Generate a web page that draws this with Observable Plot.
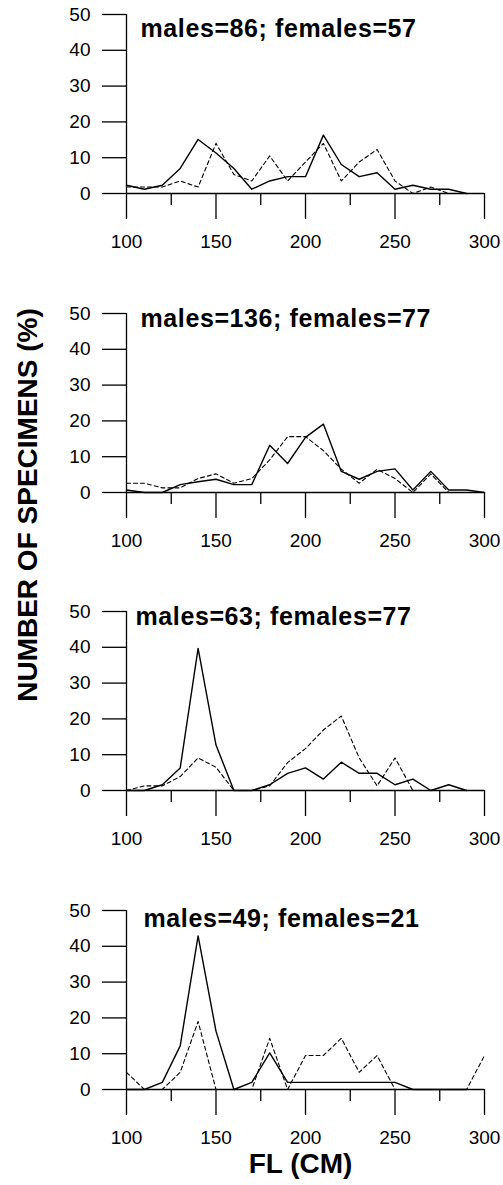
<!DOCTYPE html>
<html>
<head>
<meta charset="utf-8">
<script src="https://cdn.jsdelivr.net/npm/d3@7"></script>
<script src="https://cdn.jsdelivr.net/npm/@observablehq/plot@0.6"></script>
<style>
  html, body { margin: 0; padding: 0; background: #fff; }
  #wrap { position: relative; width: 503px; height: 1185px; overflow: hidden; font-family: "Liberation Sans", Arial, sans-serif; }
  .panel { position: absolute; left: 0; }
  .panel svg g[aria-label="text"] text { letter-spacing: 0.6px; }
  #ylab { position: absolute; left: 28px; top: 505px; transform: translate(-50%, -50%) rotate(-90deg); white-space: nowrap; font-size: 28px; font-weight: bold; line-height: 1; color: #000; }
  #xlab { position: absolute; left: 300.5px; top: 1150px; transform: translateX(-50%); white-space: nowrap; font-size: 28px; font-weight: bold; line-height: 1; color: #000; }
</style>
</head>
<body>
<div id="wrap">
  <div id="ylab">NUMBER OF SPECIMENS (%)</div>
  <div id="xlab">FL (CM)</div>
</div>
<script>
// Fork length classes (cm)
const fl = [100, 110, 120, 130, 140, 150, 160, 170, 180, 190, 200, 210, 220, 230, 240, 250, 260, 270, 280, 290, 300];
const xTicks = [100, 150, 200, 250, 300];
const xMinorTicks = [125, 175, 225, 275];
const yTicks = [0, 10, 20, 30, 40, 50];

const titles = [
  "males=86; females=57",
  "males=136; females=77",
  "males=63; females=77",
  "males=49; females=21"
];

// Percent of specimens per length class
const males1 = [2.3, 1.2, 2.3, 7.0, 15.1, 11.3, 7.0, 1.2, 3.5, 4.7, 4.7, 16.3, 8.1, 4.7, 5.8, 1.2, 2.3, 1.2, 1.2, 0, null];
const females1 = [1.8, 1.8, 1.8, 3.5, 1.8, 14.0, 5.3, 3.5, 10.5, 3.5, 8.8, 14.0, 3.5, 8.8, 12.3, 3.5, 0, 1.8, 0, 0, null];

const males2 = [0.7, 0, 0, 2.2, 3.0, 3.7, 2.2, 2.2, 13.2, 8.1, 15.4, 19.1, 5.9, 3.7, 5.9, 6.6, 0.7, 5.9, 0.7, 0.7, 0];
const females2 = [2.6, 2.6, 1.3, 1.3, 3.9, 5.2, 2.6, 3.9, 9.1, 15.6, 15.6, 11.7, 6.5, 2.6, 6.5, 3.9, 0, 5.2, 0, 0, 0];

const males3 = [0, 0, 1.6, 6.3, 39.7, 12.7, 0, 0, 1.6, 4.8, 6.3, 3.2, 7.9, 4.8, 4.8, 1.6, 3.2, 0, 1.6, 0, null];
const females3 = [0, 1.3, 1.3, 3.9, 9.1, 6.5, 0, 0, 1.3, 7.8, 11.7, 16.9, 20.8, 9.1, 1.3, 9.1, 0, null, null, null, null];

const males4 = [0, 0, 2.0, 12.2, 42.9, 16.3, 0, 2.0, 10.2, 2.0, 2.0, 2.0, 2.0, 2.0, 2.0, 2.0, 0, 0, 0, 0, null];
const females4 = [4.8, 0, 0, 4.8, 19.0, 0, 0, 0, 14.3, 0, 9.5, 9.5, 14.3, 4.8, 9.5, 0, 0, 0, 0, 0, 9.5];

const series = [[males1, females1], [males2, females2], [males3, females3], [males4, females4]];

// layout per panel
const tops = [0, 299, 597, 896];
const heights = [299, 299, 299, 289];
const titleDx = [14, 14, 9, 17];
const titleDy = [5, -4, -4.5, -1];

const wrap = document.getElementById("wrap");

series.forEach(([m, f], i) => {
  const data = fl.map((x, k) => ({fl: x, m: m[k], f: f[k]}));
  const h = heights[i];
  const chart = Plot.plot({
    width: 503,
    height: h,
    marginLeft: 126,
    marginRight: 19,
    marginTop: 14,
    marginBottom: h - 193,
    x: {domain: [100, 300]},
    y: {domain: [0, 50]},
    style: {fontFamily: "'Liberation Sans', Arial, sans-serif", fontSize: "19px", color: "#000", background: "#fff", overflow: "visible"},
    marks: [
      Plot.axisY({ticks: yTicks, tickSize: 24, tickPadding: 12, fontSize: 19, label: null, strokeWidth: 1.3}),
      Plot.axisX({ticks: xTicks, tickSize: 26, tickPadding: 15, fontSize: 19, label: null, strokeWidth: 1.3}),
      Plot.axisX({ticks: xMinorTicks, tickSize: 12, tickFormat: () => "", label: null, strokeWidth: 1.3}),
      Plot.ruleY([0], {strokeWidth: 1.3}),
      Plot.ruleX([100], {y1: 0, y2: 50, strokeWidth: 1.3}),
      Plot.lineY(data, {x: "fl", y: "f", stroke: "#000", strokeWidth: 1.1, strokeDasharray: "4,3"}),
      Plot.lineY(data, {x: "fl", y: "m", stroke: "#000", strokeWidth: 1.4}),
      Plot.text([titles[i]], {text: d => d, frameAnchor: "top-left", textAnchor: "start", lineAnchor: "top", dx: titleDx[i], dy: titleDy[i], fontSize: 25, fontWeight: "bold", fill: "#000"})
    ]
  });
  const div = document.createElement("div");
  div.className = "panel";
  div.style.top = tops[i] + "px";
  div.appendChild(chart);
  wrap.insertBefore(div, wrap.firstChild);
});
</script>
</body>
</html>
